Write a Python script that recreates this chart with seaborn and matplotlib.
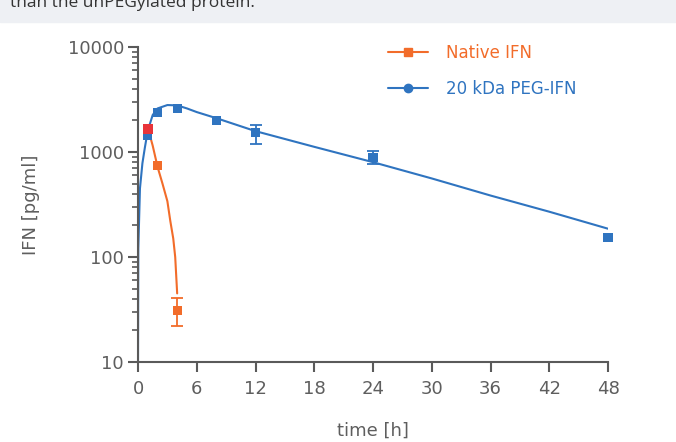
import matplotlib
matplotlib.use("Agg")
import matplotlib.pyplot as plt
import matplotlib.ticker as mticker
from matplotlib.lines import Line2D
from matplotlib.patches import Rectangle
import seaborn as sns
import pandas as pd

# measured points (lo/hi equal to value where no bar is visible)
native_t = [1, 2, 4]
native_v = [1660, 750, 31]
native_lo = [1660, 750, 22]
native_hi = [1660, 750, 41]

peg_t = [1, 2, 4, 8, 12, 24, 48]
peg_v = [1450, 2400, 2600, 2000, 1520, 880, 152]
peg_lo = [1450, 2400, 2600, 2000, 1200, 770, 152]
peg_hi = [1450, 2400, 2600, 2000, 1820, 1020, 152]

# fitted curves
native_fit_t = [1.0, 1.5, 2.0, 2.5, 3.0, 3.3, 3.6, 3.8, 4.0]
native_fit_v = [1700, 1150, 720, 500, 340, 220, 150, 100, 45]
peg_fit_t = [0, 0.03, 0.2, 0.45, 0.7, 1.0, 1.5, 2.0, 3.0, 4.0, 5.0, 6.0, 8.0, 12, 18, 24, 30, 36, 42, 48]
peg_fit_v = [10, 120, 450, 780, 1100, 1600, 2250, 2600, 2800, 2780, 2600, 2400, 2100, 1580, 1120, 800, 560, 385, 270, 186]

x_ticks = [0, 6, 12, 18, 24, 30, 36, 42, 48]
y_ticks = [10, 100, 1000, 10000]

orange = "#f26c2a"
blue = "#2f74c0"
red = "#e8343a"
grey = "#5a5a5a"
txt_grey = "#5e5e5e"

sns.set_style("ticks")
plt.rcParams["font.family"] = ["DejaVu Sans"]

fig = plt.figure(figsize=(6.76, 4.42), dpi=100)
ax = fig.add_axes([138 / 676, 1 - 362 / 442, 470 / 676, 315 / 442])

# page strip at the top
fig.patches.append(Rectangle((0, 1 - 22 / 442), 1, 22 / 442, transform=fig.transFigure,
                             color="#eef0f4", zorder=0))
fig.text(10 / 676, 1 - 7 / 442, "than the unPEGylated protein.", family="Open Sans",
         fontsize=12.5, color="#333333", va="baseline", ha="left")

fit_nat = pd.DataFrame({"t": native_fit_t, "v": native_fit_v})
fit_peg = pd.DataFrame({"t": peg_fit_t, "v": peg_fit_v})
sns.lineplot(data=fit_nat, x="t", y="v", color=orange, lw=1.5, ax=ax, sort=False)
sns.lineplot(data=fit_peg, x="t", y="v", color=blue, lw=1.5, ax=ax, sort=False)


def draw_err(ts, vs, los, his, col):
    for t, v, lo, hi in zip(ts, vs, los, his):
        if hi > lo:
            ax.errorbar([t], [v], yerr=[[v - lo], [hi - v]], fmt="none", ecolor=col,
                        elinewidth=1.3, capsize=4.5, capthick=1.3)


draw_err(peg_t, peg_v, peg_lo, peg_hi, blue)
draw_err(native_t, native_v, native_lo, native_hi, orange)

sns.scatterplot(x=peg_t, y=peg_v, marker="s", s=42, color=blue, edgecolor="none", ax=ax,
                zorder=5, clip_on=False)
sns.scatterplot(x=native_t[1:], y=native_v[1:], marker="s", s=42, color=orange, edgecolor="none",
                ax=ax, zorder=5, clip_on=False)
sns.scatterplot(x=native_t[:1], y=native_v[:1], marker="s", s=50, color=red, edgecolor="none",
                ax=ax, zorder=6, clip_on=False)

ax.set_yscale("log")
ax.set_xlim(0, 48)
ax.set_ylim(10, 10000)
ax.set_xticks(x_ticks)
ax.set_xticklabels([str(t) for t in x_ticks])
ax.set_yticks(y_ticks)
ax.set_yticklabels([str(t) for t in y_ticks])
ax.yaxis.set_minor_locator(mticker.LogLocator(base=10, subs=range(2, 10)))
ax.yaxis.set_minor_formatter(mticker.NullFormatter())

sns.despine(ax=ax)
for s in ["left", "bottom"]:
    ax.spines[s].set_color(grey)
    ax.spines[s].set_linewidth(1.5)
ax.tick_params(axis="both", which="major", length=7, width=1.5, color=grey,
               labelsize=13, labelcolor=txt_grey)
ax.tick_params(axis="x", which="major", pad=6)
ax.tick_params(axis="y", which="major", pad=3)
ax.tick_params(axis="y", which="minor", length=4, width=1.2, color=grey)

ax.set_xlabel("time [h]", fontsize=13, color=txt_grey, labelpad=17)
ax.set_ylabel("IFN [pg/ml]", fontsize=13, color=txt_grey, labelpad=20)

handles = [
    Line2D([0], [0], color=orange, lw=1.5, marker="s", markersize=6),
    Line2D([0], [0], color=blue, lw=1.5, marker="o", markersize=6),
]
leg = fig.legend(handles, ["Native IFN", "20 kDa PEG-IFN"], loc="upper left",
                 bbox_to_anchor=(388 / 676, 1 - 44 / 442), frameon=False, fontsize=12,
                 borderpad=0, borderaxespad=0, handlelength=2.4, handletextpad=1.1,
                 labelspacing=1.05)
for txt, c in zip(leg.get_texts(), [orange, blue]):
    txt.set_color(c)

fig.savefig("out.png", dpi=100)
